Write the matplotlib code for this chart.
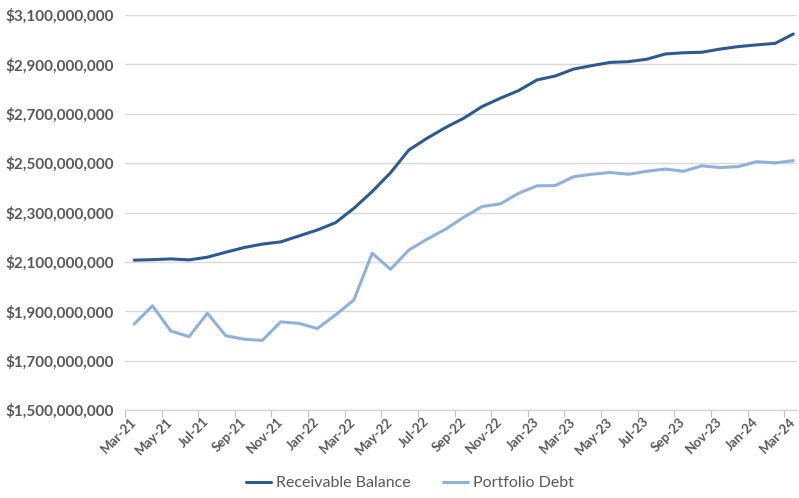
import numpy as np
import matplotlib
matplotlib.use("Agg")
import matplotlib.pyplot as plt
from matplotlib.ticker import FuncFormatter, FixedLocator

# monthly data, Mar-21 .. Mar-24
months = ["Mar-21", "Apr-21", "May-21", "Jun-21", "Jul-21", "Aug-21", "Sep-21", "Oct-21",
          "Nov-21", "Dec-21", "Jan-22", "Feb-22", "Mar-22", "Apr-22", "May-22", "Jun-22",
          "Jul-22", "Aug-22", "Sep-22", "Oct-22", "Nov-22", "Dec-22", "Jan-23", "Feb-23",
          "Mar-23", "Apr-23", "May-23", "Jun-23", "Jul-23", "Aug-23", "Sep-23", "Oct-23",
          "Nov-23", "Dec-23", "Jan-24", "Feb-24", "Mar-24"]

receivable_balance = [2.107, 2.109, 2.112, 2.108, 2.119, 2.139, 2.158, 2.172,
                      2.181, 2.205, 2.229, 2.259, 2.317, 2.385, 2.461, 2.553,
                      2.601, 2.644, 2.682, 2.729, 2.763, 2.794, 2.837, 2.853,
                      2.881, 2.895, 2.908, 2.911, 2.921, 2.942, 2.947, 2.949,
                      2.962, 2.972, 2.979, 2.985, 3.023]

portfolio_debt = [1.848, 1.922, 1.820, 1.797, 1.892, 1.801, 1.787, 1.782,
                  1.857, 1.851, 1.830, 1.885, 1.946, 2.135, 2.070, 2.148,
                  2.192, 2.232, 2.281, 2.324, 2.335, 2.378, 2.408, 2.409,
                  2.445, 2.455, 2.462, 2.455, 2.467, 2.476, 2.467, 2.489,
                  2.482, 2.486, 2.506, 2.501, 2.510]

scale = 1e9
receivable_balance = np.array(receivable_balance) * scale
portfolio_debt = np.array(portfolio_debt) * scale

dark = "#2E5A92"
light = "#91B1DB"
grey = "#595959"

plt.rcParams["font.family"] = ["Lato", "DejaVu Sans"]

fig = plt.figure(figsize=(7.99, 4.98), dpi=100)
ax = fig.add_axes([125 / 799, 1 - 410 / 498, (797 - 125) / 799, (410 - 15) / 498])

x = np.arange(len(months))
ax.plot(x, receivable_balance, color=dark, lw=2.2, label="Receivable Balance", solid_capstyle="round")
ax.plot(x, portfolio_debt, color=light, lw=2.2, label="Portfolio Debt", solid_capstyle="round")

ax.set_ylim(1.5e9, 3.1e9)
ax.set_yticks(np.arange(1.5e9, 3.1e9 + 1, 2e8))
ax.yaxis.set_major_formatter(FuncFormatter(lambda v, p: "${:,.0f}".format(v)))
ax.set_xlim(-0.5, 36.2)

# labels every 2 months, tick marks between categories
ax.set_xticks(x[::2])
ax.set_xticklabels(months[::2], rotation=45, ha="right", va="center", rotation_mode="anchor")
ax.xaxis.set_minor_locator(FixedLocator(np.arange(-0.5, 36, 2)))
ax.tick_params(axis="x", which="major", length=0, pad=7, labelsize=9.5, labelcolor=grey)
ax.tick_params(axis="x", which="minor", length=5, color="#BFBFBF", width=0.8)
ax.tick_params(axis="y", length=0, pad=8, labelsize=11, labelcolor=grey)
for lbl in ax.get_xticklabels() + ax.get_yticklabels():
    lbl.set_fontweight("bold")

ax.grid(axis="y", color="#D9D9D9", lw=1)
ax.set_axisbelow(True)
for s in ["top", "right", "left"]:
    ax.spines[s].set_visible(False)
ax.spines["bottom"].set_color("#D9D9D9")
ax.spines["bottom"].set_linewidth(1)

leg = fig.legend(loc="center", bbox_to_anchor=(410 / 799, 1 - 483 / 498), ncol=2,
                 frameon=False, fontsize=11.5, handlelength=1.6, columnspacing=2.0,
                 handletextpad=0.3)
for t in leg.get_texts():
    t.set_color(grey)

fig.savefig("out.png", dpi=100)
